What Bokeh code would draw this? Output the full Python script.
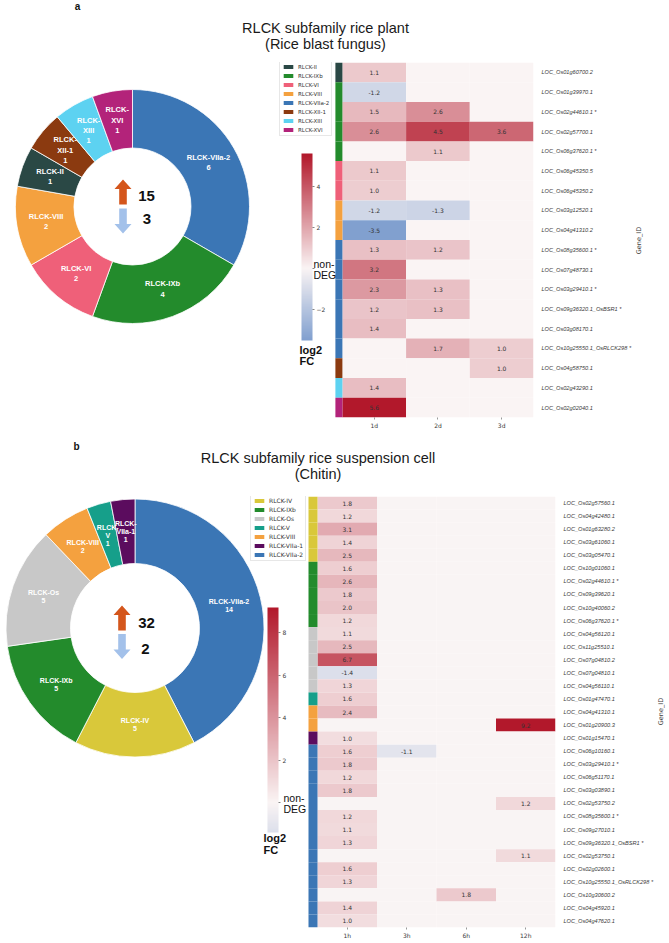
import numpy as np
from bokeh.plotting import figure
from bokeh.models import (Range1d, FixedTicker, LinearColorMapper, ColorBar,
                          Legend, LegendItem, Label, ColumnDataSource)
from bokeh.layouts import column, row
from bokeh.transform import transform
from bokeh.core.properties import value
from bokeh.embed import file_html
from bokeh.resources import INLINE

# ---------------- DATA : panel a ----------------
a_title = ["RLCK subfamily rice plant", "(Rice blast fungus)"]
a_donut_groups = ["RLCK-VIIa-2", "RLCK-IXb", "RLCK-VI", "RLCK-VIII",
                  "RLCK-II", "RLCK-XII-1", "RLCK-XIII", "RLCK-XVI"]
a_donut_counts = [6, 4, 2, 2, 1, 1, 1, 1]
a_up = 15
a_down = 3
a_times = ["1d", "2d", "3d"]
a_genes = ["LOC_Os01g60700.2", "LOC_Os01g39970.1", "LOC_Os02g44610.1 *",
           "LOC_Os02g57700.1", "LOC_Os06g37620.1 *", "LOC_Os06g45350.5",
           "LOC_Os06g45350.2", "LOC_Os03g12520.1", "LOC_Os04g41310.2",
           "LOC_Os08g35600.1 *", "LOC_Os07g48730.1", "LOC_Os03g29410.1 *",
           "LOC_Os09g36320.1_OsBSR1 *", "LOC_Os03g08170.1",
           "LOC_Os10g25550.1_OsRLCK298 *", "LOC_Os04g58750.1",
           "LOC_Os02g43290.1", "LOC_Os02g02040.1"]
a_gene_groups = ["RLCK-II", "RLCK-IXb", "RLCK-IXb", "RLCK-IXb", "RLCK-IXb",
                 "RLCK-VI", "RLCK-VI", "RLCK-VIII", "RLCK-VIII",
                 "RLCK-VIIa-2", "RLCK-VIIa-2", "RLCK-VIIa-2", "RLCK-VIIa-2",
                 "RLCK-VIIa-2", "RLCK-VIIa-2", "RLCK-XII-1", "RLCK-XIII", "RLCK-XVI"]
a_1d = [1.1, -1.2, 1.5, 2.6, 0, 1.1, 1.0, -1.2, -3.5, 1.3, 3.2, 2.3, 1.2, 1.4, 0, 0, 1.4, 5.6]
a_2d = [0, 0, 2.6, 4.5, 1.1, 0, 0, -1.3, 0, 1.2, 0, 1.3, 1.3, 0, 1.7, 0, 0, 0]
a_3d = [0, 0, 0, 3.6, 0, 0, 0, 0, 0, 0, 0, 0, 0, 0, 1.0, 1.0, 0, 0]

# ---------------- DATA : panel b ----------------
b_title = ["RLCK subfamily rice suspension cell", "(Chitin)"]
b_donut_groups = ["RLCK-VIIa-2", "RLCK-IV", "RLCK-IXb", "RLCK-Os",
                  "RLCK-VIII", "RLCK-V", "RLCK-VIIa-1"]
b_donut_counts = [14, 5, 5, 5, 2, 1, 1]
b_up = 32
b_down = 2
b_times = ["1h", "3h", "6h", "12h"]
b_genes = ["LOC_Os02g57560.1", "LOC_Os04g42480.1", "LOC_Os01g63280.2",
           "LOC_Os03g61060.1", "LOC_Os03g05470.1", "LOC_Os10g01060.1",
           "LOC_Os02g44610.1 *", "LOC_Os09g39620.1", "LOC_Os10g40060.2",
           "LOC_Os06g37620.1 *", "LOC_Os04g56120.1", "LOC_Os11g25510.1",
           "LOC_Os07g04810.2", "LOC_Os07g04810.1", "LOC_Os04g56110.1",
           "LOC_Os01g47470.1", "LOC_Os04g41310.1", "LOC_Os01g20900.3",
           "LOC_Os01g15470.1", "LOC_Os06g10160.1", "LOC_Os03g29410.1 *",
           "LOC_Os06g51170.1", "LOC_Os03g03890.1", "LOC_Os02g53750.2",
           "LOC_Os08g35600.1 *", "LOC_Os09g27010.1", "LOC_Os09g36320.1_OsBSR1 *",
           "LOC_Os02g53750.1", "LOC_Os02g02600.1", "LOC_Os10g25550.1_OsRLCK298 *",
           "LOC_Os10g30600.2", "LOC_Os04g45920.1", "LOC_Os04g47620.1"]
b_gene_groups = (["RLCK-IV"] * 5 + ["RLCK-IXb"] * 5 + ["RLCK-Os"] * 5 +
                 ["RLCK-V"] + ["RLCK-VIII"] * 2 + ["RLCK-VIIa-1"] + ["RLCK-VIIa-2"] * 14)
b_1h = [1.8, 1.2, 3.1, 1.4, 2.5, 1.6, 2.6, 1.8, 2.0, 1.2, 1.1, 2.5, 6.7, -1.4, 1.3,
        1.6, 2.4, 0, 1.0, 1.6, 1.8, 1.2, 1.8, 0, 1.2, 1.1, 1.3, 0, 1.6, 1.3, 0, 1.4, 1.0]
b_3h = [0] * 19 + [-1.1] + [0] * 13
b_6h = [0] * 30 + [1.8] + [0] * 2
b_12h = [0] * 17 + [9.2] + [0] * 5 + [1.2] + [0] * 3 + [1.1] + [0] * 5

group_colors = {
    "RLCK-II": "#2a4845", "RLCK-IXb": "#238b2c", "RLCK-VI": "#ef6079",
    "RLCK-VIII": "#f4a13f", "RLCK-VIIa-2": "#3b76b5", "RLCK-XII-1": "#8b3a10",
    "RLCK-XIII": "#5dd2f1", "RLCK-XVI": "#b3237a", "RLCK-IV": "#d9c83a",
    "RLCK-Os": "#c8c8c8", "RLCK-V": "#169f8a", "RLCK-VIIa-1": "#5b0c5e",
}
wrap_names = {"RLCK-XVI", "RLCK-XIII", "RLCK-XII-1", "RLCK-V", "RLCK-VIIa-1"}

# ---------------- STYLE ----------------
FONT = "Liberation Sans"
FONT2 = "DejaVu Sans"
W = 669
CENTER = (250, 244, 244)
RED = (178, 24, 43)
BLUE = (56, 109, 185)
UP_COLOR = "#d4561c"
DOWN_COLOR = "#a3c1ea"
TICK_TEXT = "#3a3a3a"


def lerp(c1, c2, t):
    return "#%02x%02x%02x" % tuple(int(round(a + (b - a) * t)) for a, b in zip(c1, c2))


def div_color(v, vabs):
    t = max(-1.0, min(1.0, v / vabs))
    return lerp(CENTER, RED, t) if t >= 0 else lerp(CENTER, BLUE, -t)


def arrow_poly(ox, oy, up, R, L=25.0, HL=9.5, HW=8.5, SW=3.8):
    s = -1 if up else 1
    pts = [(0, s * L / 2), (HW, s * (L / 2 - HL)), (SW, s * (L / 2 - HL)),
           (SW, -s * L / 2), (-SW, -s * L / 2), (-SW, s * (L / 2 - HL)),
           (-HW, s * (L / 2 - HL))]
    return [(ox + px) / R for px, py in pts], [-(oy + py) / R for px, py in pts]


def canvas_label(p, x, y, text, size, style="normal", align="center", font=FONT,
                 color="#111111", angle=0.0):
    p.add_layout(Label(x=x, y=y, x_units="canvas", y_units="canvas",
                       text=text, text_font=font, text_font_size=size,
                       text_font_style=style, text_align=align, angle=angle,
                       text_baseline="middle", text_color=color))


def blank_fig(w, h):
    t = figure(width=w, height=h, x_range=Range1d(0, w), y_range=Range1d(h, 0),
               x_axis_location=None, y_axis_location=None,
               output_backend="svg", toolbar_location=None,
               min_border_left=0, min_border_right=0, min_border_top=0, min_border_bottom=0)
    t.grid.visible = False
    t.outline_line_color = None
    return t


def title_fig(letter, title, g):
    t = blank_fig(W, g["th"])
    t0 = g["title_origin"]
    canvas_label(t, g["letter_xy"][0], g["letter_xy"][1] - t0, letter, "10px", "bold")
    for yy, tt in zip(g["title_y"], title):
        canvas_label(t, g["title_x"], yy - t0, tt, "14.5px", color="#1a1a1a")
    return t


def side_fig(g):
    pw = g["pw"]
    s = blank_fig(W - pw, g["H"])
    canvas_label(s, g["gid"][0] - pw, g["gid"][1] - g["origin_y"], "Gene_ID", "6.5px",
                 font=FONT2, color=TICK_TEXT, angle=np.pi / 2)
    return s


def build(d_groups, d_counts, n_up, n_down, times, genes, ggroups, cols, g):
    PW, H, bot, right = g["pw"], g["H"], g["bot"], g["right"]
    oy = g["origin_y"]
    fw = PW - right
    fh = H - bot
    nrow, ncol = len(genes), len(times)
    colw = g["colw"]
    xr = Range1d(ncol - 0.5 - fw / colw, ncol - 0.5)
    yr = Range1d(nrow - 0.5, -0.5)
    p = figure(width=PW, height=H, x_range=xr, y_range=yr, y_axis_location="right",
               output_backend="svg", toolbar_location=None,
               min_border_left=0, min_border_right=right,
               min_border_top=0, min_border_bottom=bot)
    p.grid.visible = False
    p.outline_line_color = None
    p.background_fill_color = "white"
    p.border_fill_color = "white"

    # ---- heatmap ----
    vals = np.array(cols, dtype=float)
    vmin, vmax = float(vals.min()), float(vals.max())
    vabs = max(abs(vmin), abs(vmax))
    palette = [div_color(v, vabs) for v in np.linspace(vmin, vmax, 256)]
    mapper = LinearColorMapper(palette=palette, low=vmin, high=vmax)
    hx, hy, hv, ht = [], [], [], []
    for j in range(ncol):
        for i in range(nrow):
            hx.append(j)
            hy.append(i)
            hv.append(vals[j, i])
            ht.append("" if vals[j, i] == 0 else f"{vals[j, i]:.1f}")
    src = ColumnDataSource(dict(x=hx, y=hy, v=hv, t=ht))
    p.rect(x="x", y="y", width=1, height=1, source=src,
           fill_color=transform("v", mapper), line_color=None)
    p.text(x="x", y="y", text="t", source=src, text_font=value(FONT2),
           text_font_size=g["cell_fs"], text_color="#333333",
           text_align="center", text_baseline="middle")

    # ---- group strip + legend ----
    sw = g["strip_px"] / colw
    ssrc = ColumnDataSource(dict(x=[-0.5 - sw / 2] * nrow, y=list(range(nrow)),
                                 c=[group_colors[gg] for gg in ggroups]))
    sr = p.rect(x="x", y="y", width=sw, height=1, source=ssrc,
                fill_color="c", line_color=None)
    items, seen = [], []
    for i, gg in enumerate(ggroups):
        if gg not in seen:
            seen.append(gg)
            items.append(LegendItem(label=gg, renderers=[sr], index=i))
    n_it = len(items)
    lab_h, spc, pad = 7, 2, 2
    leg_h = n_it * lab_h + (n_it - 1) * spc + 2 * pad
    leg_top_c = max(0, g["leg_top"] - oy)
    legend = Legend(items=items,
                    location=(g["leg_left"], fh - (leg_top_c + leg_h)),
                    label_text_font=FONT2, label_text_font_size=g["leg_fs"],
                    label_text_color="#333333",
                    glyph_width=12, glyph_height=5, label_height=lab_h,
                    label_standoff=4, spacing=spc, padding=pad, margin=0,
                    border_line_color="#d0d0d0", border_line_width=0.7,
                    background_fill_color="white", background_fill_alpha=1.0)
    p.add_layout(legend)

    # ---- axes ----
    ya = p.yaxis[0]
    ya.ticker = FixedTicker(ticks=list(range(nrow)), minor_ticks=[])
    ya.major_label_overrides = {i: gname for i, gname in enumerate(genes)}
    ya.major_label_text_font = FONT
    ya.major_label_text_font_style = "italic"
    ya.major_label_text_font_size = "5.6px"
    ya.major_label_text_color = TICK_TEXT
    ya.major_tick_line_color = None
    ya.minor_tick_line_color = None
    ya.axis_line_color = None
    ya.major_label_standoff = 2

    xa = p.xaxis[0]
    xa.ticker = FixedTicker(ticks=list(range(ncol)), minor_ticks=[])
    xa.major_label_overrides = {j: t for j, t in enumerate(times)}
    xa.major_label_text_font = FONT2
    xa.major_label_text_font_size = "6px"
    xa.major_label_text_color = TICK_TEXT
    xa.major_tick_line_color = "#555555"
    xa.major_tick_line_width = 0.6
    xa.major_tick_in = 0
    xa.major_tick_out = 2
    xa.minor_tick_line_color = None
    xa.axis_line_color = None
    xa.major_label_standoff = 2

    # ---- color bar ----
    cb_top_c = g["cb_top"] - oy
    cb_bot_c = g["cb_bot"] - oy
    cb = ColorBar(color_mapper=mapper, location=(g["cb_x"], fh - cb_bot_c),
                  width=g["cb_w"], height=cb_bot_c - cb_top_c, padding=0,
                  ticker=FixedTicker(ticks=g["cb_ticks"], minor_ticks=[]),
                  major_label_overrides={0: "", -2: "\u22122"},
                  major_label_text_font=FONT2, major_label_text_font_size="6px",
                  major_label_text_color=TICK_TEXT,
                  major_tick_in=0, major_tick_out=2, major_tick_line_color="#333333",
                  major_tick_line_width=0.6, minor_tick_line_color=None,
                  label_standoff=2, bar_line_color=None, border_line_color=None,
                  background_fill_alpha=0)
    p.add_layout(cb)

    # ---- donut ----
    R = g["R"]
    dcx = g["dcx"]
    dcy = g["dcy"] - oy
    p.extra_x_ranges = {"dx": Range1d(-dcx / R, (fw - dcx) / R)}
    p.extra_y_ranges = {"dy": Range1d(-(fh - dcy) / R, dcy / R)}
    total = float(sum(d_counts))
    cum = np.concatenate([[0.0], np.cumsum(d_counts)]) / total
    st = [np.pi / 2 - 2 * np.pi * cum[k + 1] for k in range(len(d_counts))]
    en = [np.pi / 2 - 2 * np.pi * cum[k] for k in range(len(d_counts))]
    mid = [(a + b) / 2 for a, b in zip(st, en)]
    dsrc = ColumnDataSource(dict(s=st, e=en, c=[group_colors[gg] for gg in d_groups]))
    p.annular_wedge(x=0, y=0, inner_radius=0.5, outer_radius=1.0, start_angle="s",
                    end_angle="e", fill_color="c", line_color="white", line_width=0.8,
                    source=dsrc, x_range_name="dx", y_range_name="dy")
    labs = []
    for gg, n in zip(d_groups, d_counts):
        name = gg.replace("RLCK-", "RLCK-\n") if gg in wrap_names else gg
        labs.append(f"{name}\n{n}")
    lsrc = ColumnDataSource(dict(x=[0.75 * np.cos(m) for m in mid],
                                 y=[0.75 * np.sin(m) for m in mid], t=labs))
    p.text(x="x", y="y", text="t", source=lsrc, text_font=value(FONT),
           text_font_style="bold", text_font_size=g["wedge_fs"], text_color="white",
           text_align="center", text_baseline="middle", text_line_height=1.15,
           x_range_name="dx", y_range_name="dy")

    ux, uy = arrow_poly(g["up_off"][0], g["up_off"][1], True, R)
    dx_, dy_ = arrow_poly(g["dn_off"][0], g["dn_off"][1], False, R)
    p.patches(xs=[ux, dx_], ys=[uy, dy_], fill_color=[UP_COLOR, DOWN_COLOR],
              line_color=None, x_range_name="dx", y_range_name="dy")
    nx = [g["nup_off"][0] / R, g["ndn_off"][0] / R]
    ny = [-g["nup_off"][1] / R, -g["ndn_off"][1] / R]
    p.text(x=nx, y=ny, text=[str(n_up), str(n_down)], text_font=value(FONT),
           text_font_style="bold", text_font_size="15px", text_color="#111111",
           text_align="center", text_baseline="middle",
           x_range_name="dx", y_range_name="dy")

    # ---- colour-bar side texts ----
    canvas_label(p, g["nd_x"], g["nd_y"][0] - oy, "non-", "10.5px", align="left")
    canvas_label(p, g["nd_x"], g["nd_y"][1] - oy, "DEG", "10.5px", align="left")
    canvas_label(p, g["fc_x"], g["fc_y"][0] - oy, "log2", "11px", "bold", align="left")
    canvas_label(p, g["fc_x"], g["fc_y"][1] - oy, "FC", "11px", "bold", align="left")
    return p


geo_a = dict(title_origin=0, th=62, origin_y=62, H=378, bot=23, pw=634, right=101,
             colw=63.7, strip_px=7,
             R=117, dcx=132, dcy=206, leg_left=279, leg_top=62, leg_fs="5.5px",
             cb_x=301, cb_top=153, cb_bot=340, cb_w=11, cb_ticks=[-2, 0, 2, 4],
             title_x=325, title_y=[27, 43], letter_xy=(77, 6),
             nd_x=313, nd_y=[263, 274], fc_x=299, fc_y=[349, 360], gid=(638, 240),
             up_off=(-9.5, -14.5), dn_off=(-9.5, 14.5), nup_off=(14, -11), ndn_off=(14.5, 12),
             cell_fs="6px", wedge_fs="7.5px")
geo_b = dict(title_origin=440, th=56, origin_y=496, H=446, bot=15, pw=656, right=101,
             colw=59.5, strip_px=9,
             R=129, dcx=134.5, dcy=627.5, leg_left=250, leg_top=496, leg_fs="6px",
             cb_x=267, cb_top=607, cb_bot=832, cb_w=11, cb_ticks=[0, 2, 4, 6, 8],
             title_x=317.5, title_y=[457, 473], letter_xy=(76, 446),
             nd_x=283, nd_y=[797, 808], fc_x=263, fc_y=[837, 849], gid=(660, 711),
             up_off=(-13, -10), dn_off=(-13, 18.5), nup_off=(11.5, -5.5), ndn_off=(10.5, 20.5),
             cell_fs="6px", wedge_fs="7px")

ta = title_fig("a", a_title, geo_a)
pa = build(a_donut_groups, a_donut_counts, a_up, a_down, a_times,
           a_genes, a_gene_groups, [a_1d, a_2d, a_3d], geo_a)
sa = side_fig(geo_a)
tb = title_fig("b", b_title, geo_b)
pb = build(b_donut_groups, b_donut_counts, b_up, b_down, b_times,
           b_genes, b_gene_groups, [b_1h, b_3h, b_6h, b_12h], geo_b)
sb = side_fig(geo_b)

layout = column(ta, row(pa, sa, spacing=0), tb, row(pb, sb, spacing=0), spacing=0)
open("out.html", "w").write(file_html(layout, INLINE))
